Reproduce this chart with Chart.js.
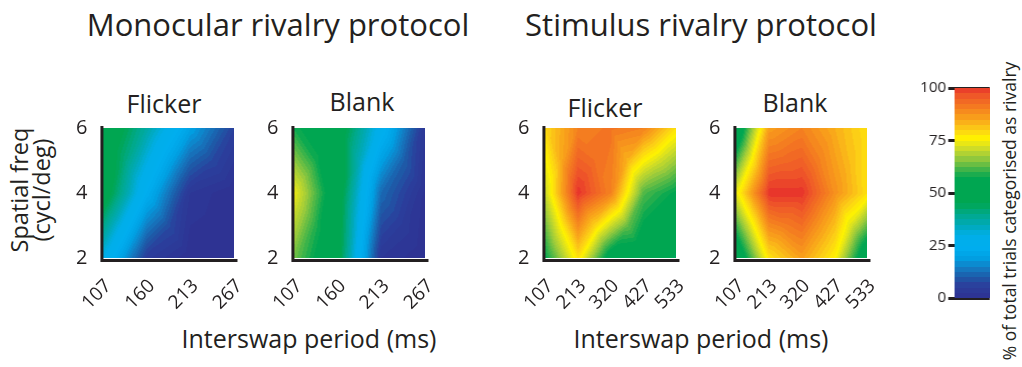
<!DOCTYPE html>
<html>
<head>
<meta charset="utf-8">
<title>Rivalry heatmaps</title>
<script src="https://cdn.jsdelivr.net/npm/chart.js@4.4.1/dist/chart.umd.min.js"></script>
<style>
  body { margin: 0; background: #fff; }
  #fig { position: relative; width: 1022px; height: 367px; overflow: hidden;
         font-family: "Open Sans", "Noto Sans", sans-serif; color: #231f20; }
  #fig canvas { position: absolute; }
  .lbl { position: absolute; white-space: nowrap; line-height: 1; transform: translate(-50%, -50%); }
  .rot { transform: translate(-50%, -50%) rotate(-90deg); text-align: center; }
</style>
</head>
<body>
<div id="fig">
  <div class="lbl" style="left:278px;top:24px;font-size:31px">Monocular rivalry protocol</div>
  <div class="lbl" style="left:701px;top:24px;font-size:31px">Stimulus rivalry protocol</div>
  <div class="lbl" style="left:164px;top:103px;font-size:25px">Flicker</div>
  <div class="lbl" style="left:362px;top:101px;font-size:25px">Blank</div>
  <div class="lbl" style="left:605px;top:107px;font-size:25px">Flicker</div>
  <div class="lbl" style="left:795px;top:102px;font-size:25px">Blank</div>
  <div class="lbl rot" style="left:30px;top:190px;font-size:23.5px;line-height:22px">Spatial freq<br>(cycl/deg)</div>
  <div class="lbl" style="left:309px;top:338px;font-size:25px">Interswap period (ms)</div>
  <div class="lbl" style="left:701px;top:338px;font-size:25px">Interswap period (ms)</div>
  <div class="lbl rot" style="left:1010px;top:211px;font-size:17.5px">% of total trials categorised as rivalry</div>
  <canvas id="monoFlicker" width="200" height="240"></canvas>
  <canvas id="monoBlank" width="200" height="240"></canvas>
  <canvas id="stimFlicker" width="200" height="240"></canvas>
  <canvas id="stimBlank" width="200" height="240"></canvas>
  <canvas id="colourbar" width="90" height="250"></canvas>
</div>
<script>
// interswap periods (ms) and spatial frequencies (cycl/deg)
const monoPeriods = [107, 160, 213, 267];
const stimPeriods = [107, 213, 320, 427, 533];
const spatialFreqs = [2, 4, 6];

// % of trials categorised as rivalry, one row per spatial frequency (2, 4, 6)
const monoFlicker = [
  [30, 5, 0, 0],
  [50, 24, 3, 0],
  [53, 37, 20, 6]
];
const monoBlank = [
  [64, 48, 3, 0],
  [74, 50, 12, 1],
  [58, 50, 27, 3]
];
const stimFlicker = [
  [57, 78, 52, 50, 44],
  [71, 100, 90, 62, 56],
  [79, 90, 92, 90, 78]
];
const stimBlank = [
  [48, 78, 86, 76, 48],
  [74, 100, 100, 88, 78],
  [48, 86, 90, 84, 78]
];
const colourbarTicks = [0, 25, 50, 75, 100];

const ink = '#231f20';
const family = '"Open Sans", "Noto Sans", sans-serif';

// spectrum used for the percentage scale
const colourStops = [
  [0, '#2e3192'], [6, '#2b3f9c'], [10, '#1d5ba8'], [14, '#1479c0'], [19, '#00a0e3'],
  [24, '#00aeef'], [30, '#00aee8'], [35, '#00a9b5'], [40, '#00a98a'], [45, '#00a651'],
  [57, '#00a651'], [62, '#4db748'], [67, '#9ccb3b'], [72, '#d7df23'], [76, '#fff200'],
  [80, '#fcd116'], [85, '#f9a61a'], [91, '#f47b20'], [96, '#ef5a28'], [100, '#e8342b']
].map(([v, h]) => [v, [1, 3, 5].map(k => parseInt(h.substr(k, 2), 16))]);

function colourFor(v, step) {
  // banded in small steps, like a filled contour plot
  v = Math.min(100, Math.max(0, Math.floor(v / step) * step + step / 2));
  let i = 0;
  while (i < colourStops.length - 2 && v > colourStops[i + 1][0]) i++;
  const [v0, c0] = colourStops[i], [v1, c1] = colourStops[i + 1];
  const t = (v - v0) / (v1 - v0);
  return c0.map((c, k) => Math.round(c + (c1[k] - c) * t));
}

const clamp01 = t => Math.min(1, Math.max(0, t));

// linear interpolation over each grid cell split into four triangles round its centre
function sampleGrid(xs, ys, grid, xv, yv) {
  let i = 0, j = 0;
  while (i < xs.length - 2 && xv > xs[i + 1]) i++;
  while (j < ys.length - 2 && yv > ys[j + 1]) j++;
  const fx = clamp01((xv - xs[i]) / (xs[i + 1] - xs[i]));
  const fy = clamp01((yv - ys[j]) / (ys[j + 1] - ys[j]));
  const v00 = grid[j][i], v10 = grid[j][i + 1], v01 = grid[j + 1][i], v11 = grid[j + 1][i + 1];
  const c = (v00 + v10 + v01 + v11) / 4;
  const d = Math.min(fx, 1 - fx, fy, 1 - fy);
  if (d === fy) return (1 - fx - fy) * v00 + (fx - fy) * v10 + 2 * fy * c;
  if (d === 1 - fy) { const g = 1 - fy; return (1 - fx - g) * v01 + (fx - g) * v11 + 2 * g * c; }
  if (d === fx) return (1 - fy - fx) * v00 + (fy - fx) * v01 + 2 * fx * c;
  const g = 1 - fx;
  return (1 - fy - g) * v10 + (fy - g) * v11 + 2 * g * c;
}

function paintArea(chart, valueAt, step) {
  const {ctx, chartArea: a} = chart;
  const w = Math.round(a.right - a.left), h = Math.round(a.bottom - a.top);
  const off = document.createElement('canvas');
  off.width = w; off.height = h;
  const octx = off.getContext('2d');
  const img = octx.createImageData(w, h);
  for (let py = 0; py < h; py++) {
    for (let px = 0; px < w; px++) {
      const rgb = colourFor(valueAt(a.left + px + 0.5, a.top + py + 0.5), step);
      const k = (py * w + px) * 4;
      img.data[k] = rgb[0]; img.data[k + 1] = rgb[1]; img.data[k + 2] = rgb[2]; img.data[k + 3] = 255;
    }
  }
  octx.putImageData(img, 0, 0);
  ctx.drawImage(off, a.left, a.top);
}

const heatPlugin = {
  id: 'heat',
  beforeDatasetsDraw(chart) {
    const ds = chart.data.datasets[0];
    const {x, y} = chart.scales;
    paintArea(chart, (px, py) =>
      sampleGrid(ds.xs, spatialFreqs, ds.grid, x.getValueForPixel(px), y.getValueForPixel(py)), 1.5);
  },
  afterDatasetsDraw(chart) {
    // L-shaped axis frame just outside the plot area
    const {ctx, chartArea: a} = chart;
    ctx.save();
    ctx.strokeStyle = ink;
    ctx.lineWidth = 3;
    ctx.beginPath();
    ctx.moveTo(a.left - 1.5, a.top - 2);
    ctx.lineTo(a.left - 1.5, a.bottom + 2.5);
    ctx.lineTo(a.right + 3, a.bottom + 2.5);
    ctx.stroke();
    ctx.restore();
  }
};

const barPlugin = {
  id: 'bar',
  beforeDatasetsDraw(chart) {
    const y = chart.scales.y;
    paintArea(chart, (px, py) => y.getValueForPixel(py), 2.5);
  }
};

// resize so the plot area has the wanted size, then move it into place
function place(chart, left, top, width, height) {
  let a = chart.chartArea;
  const dw = width - (a.right - a.left), dh = height - (a.bottom - a.top);
  if (Math.abs(dw) > 0.1 || Math.abs(dh) > 0.1) chart.resize(chart.width + dw, chart.height + dh);
  a = chart.chartArea;
  chart.canvas.style.left = (left - a.left) + 'px';
  chart.canvas.style.top = (top - a.top) + 'px';
}

function heatChart(id, periods, grid, left) {
  const points = [];
  spatialFreqs.forEach((f, j) => periods.forEach((p, i) => points.push({x: p, y: f, v: grid[j][i]})));
  const chart = new Chart(document.getElementById(id), {
    type: 'scatter',
    data: { datasets: [{ data: points, xs: periods, grid: grid, pointRadius: 0, pointHoverRadius: 0 }] },
    options: {
      responsive: false,
      maintainAspectRatio: false,
      animation: false,
      events: [],
      layout: { padding: { top: 14, right: 16, left: 4, bottom: 4 } },
      plugins: { legend: { display: false }, tooltip: { enabled: false } },
      scales: {
        x: {
          type: 'linear', min: periods[0], max: periods[periods.length - 1],
          afterBuildTicks: s => { s.ticks = periods.map(v => ({ value: v })); },
          grid: { display: false }, border: { display: false },
          ticks: { autoSkip: false, maxRotation: 45, minRotation: 45, padding: 9, labelOffset: 5,
                   color: ink, font: { size: 19, family: family } }
        },
        y: {
          type: 'linear', min: spatialFreqs[0], max: spatialFreqs[spatialFreqs.length - 1],
          afterBuildTicks: s => { s.ticks = spatialFreqs.map(v => ({ value: v })); },
          grid: { display: false }, border: { display: false },
          ticks: { padding: 8, color: ink, font: { size: 20, family: family } }
        }
      }
    },
    plugins: [heatPlugin]
  });
  place(chart, left, 128, 131, 130);
  return chart;
}

heatChart('monoFlicker', monoPeriods, monoFlicker, 103);
heatChart('monoBlank', monoPeriods, monoBlank, 294);
heatChart('stimFlicker', stimPeriods, stimFlicker, 545);
heatChart('stimBlank', stimPeriods, stimBlank, 736);

const bar = new Chart(document.getElementById('colourbar'), {
  type: 'scatter',
  data: { datasets: [] },
  options: {
    responsive: false,
    maintainAspectRatio: false,
    animation: false,
    events: [],
    layout: { padding: { top: 10, right: 4, left: 4, bottom: 10 } },
    plugins: { legend: { display: false }, tooltip: { enabled: false } },
    scales: {
      x: { display: false, min: 0, max: 1 },
      y: {
        min: 0, max: 100, z: 1,
        afterBuildTicks: s => { s.ticks = colourbarTicks.map(v => ({ value: v })); },
        grid: { color: ink, lineWidth: 3, tickLength: 6, drawTicks: true, drawOnChartArea: true },
        border: { display: false },
        ticks: { padding: 2, color: ink, font: { size: 15, family: family } }
      }
    }
  },
  plugins: [barPlugin]
});
place(bar, 954, 88, 34, 210);
</script>
</body>
</html>
